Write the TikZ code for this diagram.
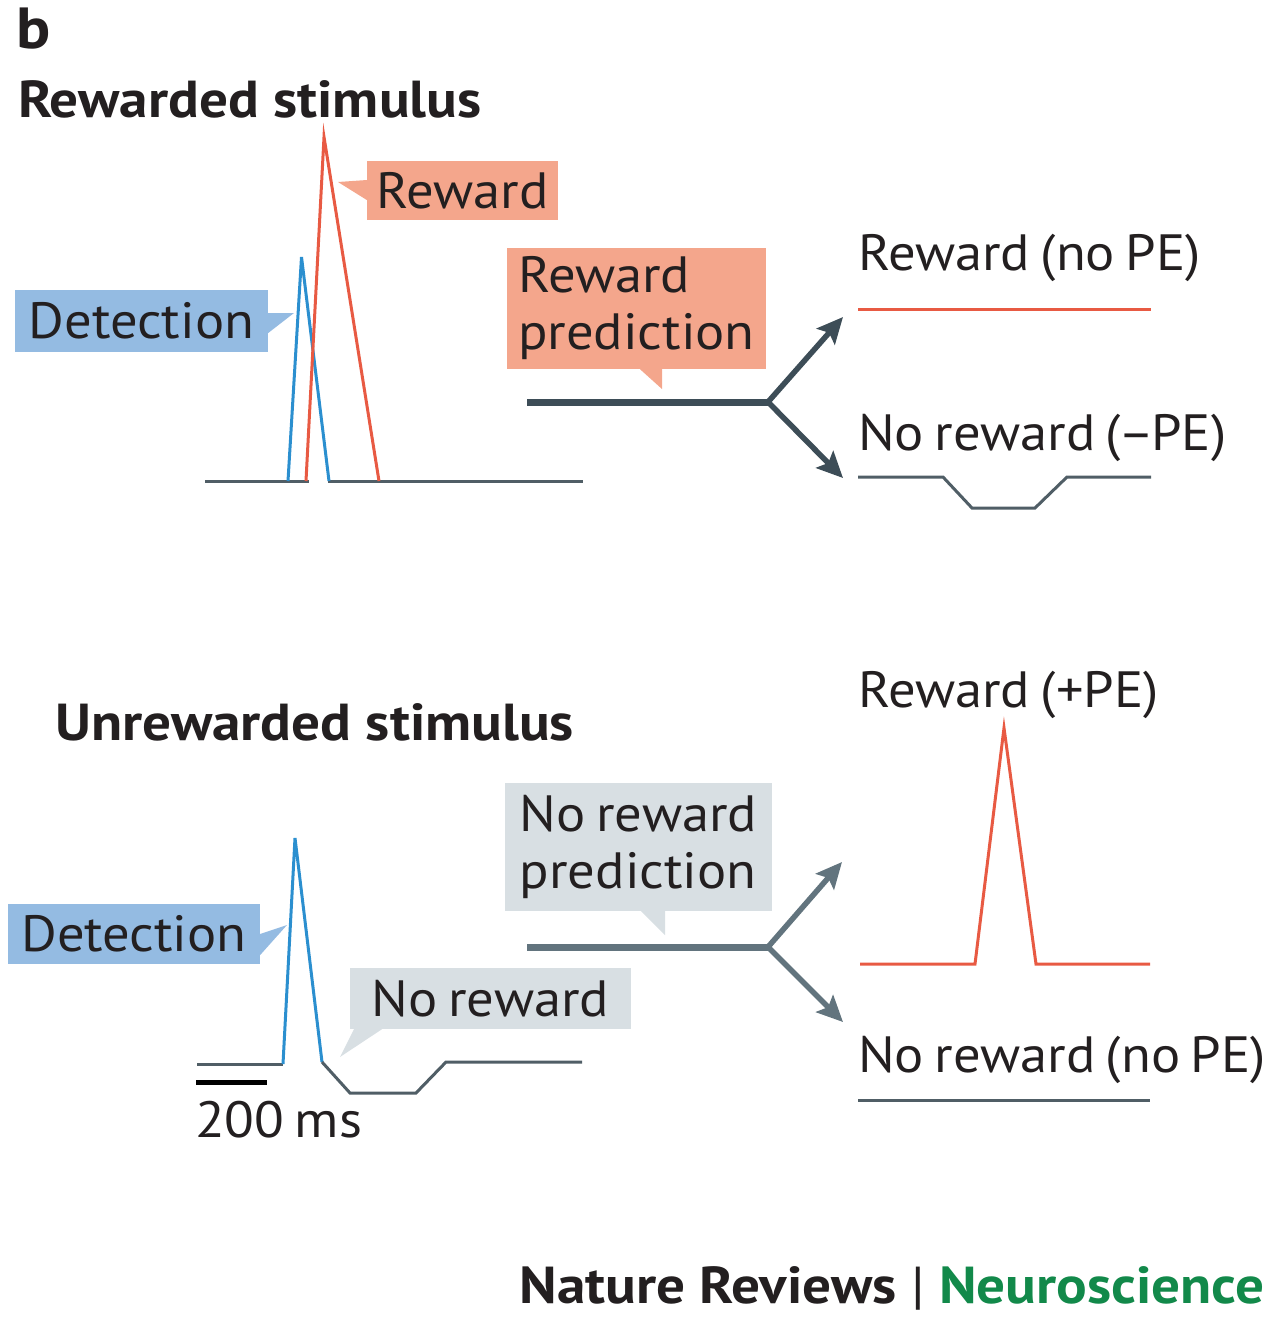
\documentclass[tikz,border=0pt]{standalone}
\usepackage{fontspec}
\setmainfont{PT Sans}
\newfontfamily\lblfam[FakeStretch=1.07,WordSpace=0.72]{PT Sans}
\newfontfamily\ttlfam[FakeStretch=1.1]{PT Sans}
\usetikzlibrary{arrows.meta,calc}
\definecolor{bluebox}{RGB}{148,187,226}
\definecolor{salmonbox}{RGB}{244,166,140}
\definecolor{graybox}{RGB}{216,223,227}
\definecolor{bluetrace}{RGB}{43,143,207}
\definecolor{redtrace}{RGB}{232,90,67}
\definecolor{darkstem}{RGB}{61,77,87}
\definecolor{lightstem}{RGB}{98,116,126}
\definecolor{tracegray}{RGB}{80,94,102}
\definecolor{textcol}{RGB}{35,31,32}
\definecolor{nrgreen}{RGB}{18,137,74}
\newcommand\lblfont{\lblfam\fontsize{51}{57}\selectfont}
\newcommand\ttlfont{\ttlfam\fontsize{52}{57}\selectfont\bfseries}
\begin{document}
\begin{tikzpicture}[x=1pt,y=-1pt,
  lbl/.style={anchor=base west, inner sep=0pt, text=textcol, font=\lblfont},
  ttl/.style={anchor=base west, inner sep=0pt, text=textcol, font=\ttlfont},
  cbox/.style={inner sep=0pt, align=left, text=textcol, font=\lblfont},
  trace/.style={line width=3pt, line join=miter, line cap=butt},
  stem/.style={line width=7pt},
  arr/.style={line width=5.5pt, -{Stealth[length=26pt,width=24pt,inset=5pt]}}]
\useasboundingbox (0,0) rectangle (1274,1318);

% titles
\node[ttl, font=\ttlfam\fontsize{58}{60}\selectfont\bfseries] (b) at (16,48) {b};
\node[ttl] (t1) at (18,117) {Rewarded stimulus};
\node[ttl] (t2) at (55,740) {Unrewarded stimulus};

% ===== top panel =====
\draw[trace, tracegray] (205,481) -- (309,481);
\draw[trace, tracegray] (328,481) -- (583,481);
\draw[trace, bluetrace] (288,481) -- (301.5,257) -- (329,481);
\draw[trace, redtrace] (306,481) -- (324,137) -- (379,481);

\node[cbox, fill=salmonbox, minimum width=191pt, minimum height=59pt] (rw) at (462.5,190.5) {Reward};
\fill[salmonbox] (rw.west |- 0,180) -- (338,182) -- (rw.west |- 0,200) -- cycle;

\node[cbox, fill=bluebox, minimum width=253pt, minimum height=62pt] (det1) at (141.5,321) {Detection};
\fill[bluebox] (det1.east |- 0,313) -- (294,313) -- (det1.east |- 0,333) -- cycle;

\node[cbox, fill=salmonbox, minimum width=259pt, minimum height=121pt] (rp) at (636.5,308.5) {Reward\\prediction};
\fill[salmonbox] (rp.south -| 640,0) -- (662,389) -- (rp.south -| 662,0) -- cycle;

\coordinate (s1) at (527,402);
\coordinate (f1) at (768,402);
\coordinate (u1) at (843,317);
\coordinate (d1) at (843,478);
\draw[stem, darkstem] (s1) -- (f1);
\draw[arr, darkstem] (f1) -- (u1);
\draw[arr, darkstem] (f1) -- (d1);

\node[lbl] (rnope) at (858,270) {Reward (no PE)};
\draw[trace, redtrace] (858,309) -- (1151,309);
\node[lbl] (nrmpe) at (858,450) {No reward (\kern-3pt–\kern-3pt PE)};
\draw[trace, tracegray] (858,477) -- (943,477) -- (972,508) -- (1035,508) -- (1067,477) -- (1151,477);

% ===== bottom panel =====
\draw[trace, tracegray] (197,1064) -- (283,1064);
\draw[trace, bluetrace] (283,1064) -- (295,838) -- (322,1062);
\draw[trace, tracegray] (322,1062) -- (350,1093) -- (416,1093) -- (446,1062) -- (582,1062);

\draw[line width=5pt, black] (196,1082) -- (267,1082);
\node[lbl] (ms) at (195,1137) {200 ms};

\node[cbox, fill=bluebox, minimum width=252pt, minimum height=60pt] (det2) at (134,934) {Detection};
\fill[bluebox] (det2.east |- 0,934) -- (287,925) -- (det2.east |- 0,955) -- cycle;

\node[cbox, fill=graybox, minimum width=281pt, minimum height=61pt] (nr) at (490.5,998.5) {No reward};
\fill[graybox] (nr.south -| 354,0) -- (340,1057) -- (nr.south -| 382,0) -- cycle;

\node[cbox, fill=graybox, minimum width=267pt, minimum height=128pt] (nrp) at (638.5,847) {No reward\\prediction};
\fill[graybox] (nrp.south -| 641,0) -- (665,935) -- (nrp.south -| 665,0) -- cycle;

\coordinate (s2) at (527,947);
\coordinate (f2) at (768,947);
\coordinate (u2) at (842,862);
\coordinate (d2) at (843,1022);
\draw[stem, lightstem] (s2) -- (f2);
\draw[arr, lightstem] (f2) -- (u2);
\draw[arr, lightstem] (f2) -- (d2);

\node[lbl] (rppe) at (858,707) {Reward (+PE)};
\draw[trace, redtrace] (860,964) -- (975,964) -- (1004,728) -- (1036,964) -- (1150,964);
\node[lbl] (nrnope) at (858,1072) {No reward (no PE)};
\draw[trace, tracegray] (858,1100) -- (1150,1100);

% footer
\node[anchor=base east, inner sep=0pt, text=textcol, font=\ttlfam\fontsize{52}{54}\selectfont\bfseries] (foot) at (1265,1303)
  {Nature Reviews {\mdseries|} \textcolor{nrgreen}{Neuroscience}};
\end{tikzpicture}
\end{document}
